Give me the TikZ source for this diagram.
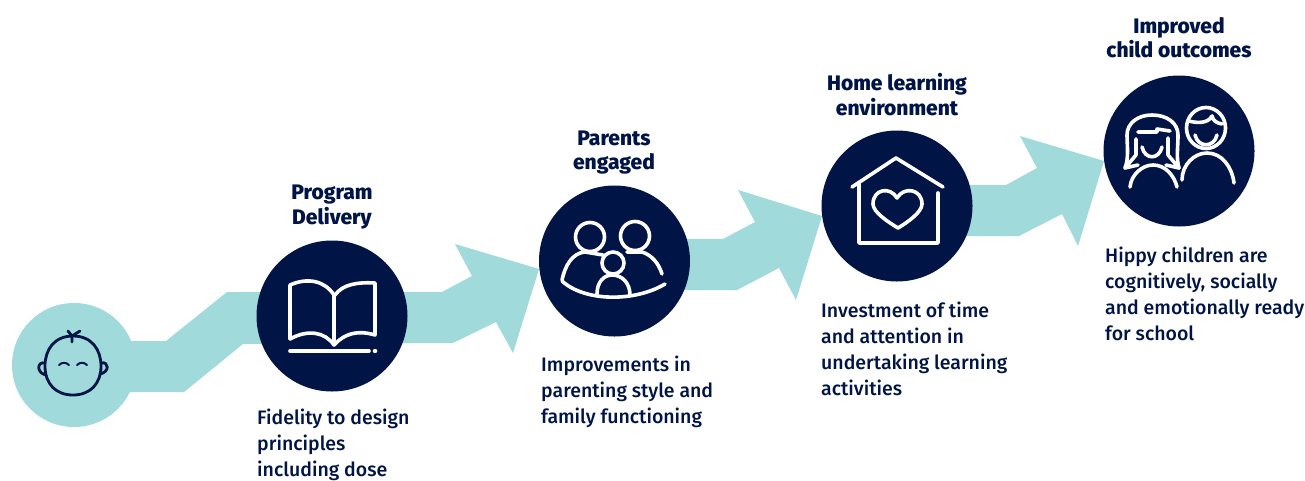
\documentclass[tikz,border=0pt]{standalone}
\usepackage{fontspec}
\setmainfont{Fira Sans Medium}[BoldFont={Fira Sans ExtraBold}]
\usetikzlibrary{positioning}
\definecolor{navy}{HTML}{001446}
\definecolor{aqua}{HTML}{A0DADB}
\tikzset{
    hub/.style={circle,fill=navy,minimum size=151pt,inner sep=0pt},
    title/.style={text=navy,font=\fontsize{21}{24.5}\selectfont\bfseries,align=center,inner sep=0pt,anchor=north},
    body/.style={text=navy,font=\fontsize{19.5}{26}\selectfont,align=left,inner sep=0pt,anchor=north west},
    icon/.style={draw=white,line width=3.6pt,line cap=round,line join=round},
    babyline/.style={draw=navy,line width=2.8pt,line cap=round,line join=round}
}
\begin{document}
\begin{tikzpicture}[x=1pt,y=-1pt]
    \useasboundingbox (0,0) rectangle (1305,480);

    % Arrows
    \fill[aqua] (130,341) -- (166,341) -- (227,292) -- (442,292) -- (472,276) -- (455,244) -- (539,269) -- (513,353) -- (496,322) -- (453,343) -- (243,344) -- (184,392) -- (129,392) -- cycle;
    \fill[aqua] (680,239) -- (723,239) -- (755,222) -- (738,190) -- (822,216) -- (796,300) -- (779,268) -- (737,290) -- (680,290) -- cycle;
    \fill[aqua] (960,185) -- (1006,185) -- (1037,168) -- (1020,136) -- (1104,161) -- (1078,246) -- (1062,214) -- (1019,236) -- (960,236) -- cycle;

    % Circles
    \node[circle,fill=aqua,minimum size=124pt,inner sep=0pt] (baby) at (74,365) {};
    \node[hub] (book) at (332,316) {};
    \node[hub] (parents) at (614.5,261) {};
    \node[hub] (home) at (897,206) {};
    \node[hub] (kids) at (1179,151) {};

    % Baby
    \draw[babyline] (73,336) .. controls (92,336) and (101,350) .. (101,366) .. controls (101,384) and (90,395) .. (73,395) .. controls (56,395) and (45,384) .. (45,366) .. controls (45,350) and (54,336) .. (73,336);
    \draw[babyline] (45,363) .. controls (37,361) and (36,373) .. (46,375);
    \draw[babyline] (101,363) .. controls (109,361) and (110,372) .. (100,374);
    \draw[babyline] (72,342) -- (72,336) -- (68,331);
    \draw[babyline] (72,336) -- (80,331);
    \draw[babyline,line width=2pt] (59,365) .. controls (62,362) and (66,362) .. (69,365);
    \draw[babyline,line width=2pt] (77,365) .. controls (80,362) and (84,362) .. (87,365);

    % Book
    \draw[icon] (290,339) -- (290,285) .. controls (308,277) and (325,281) .. (334,295) -- (334,345) .. controls (325,332) and (308,329) .. (290,339);
    \draw[icon] (335,295) .. controls (343,284) and (358,282) .. (375,283) -- (375,335) .. controls (358,330) and (345,333) .. (334,345);
    \draw[icon] (290,351) -- (369,351);
    \draw[icon] (374.5,351) -- (375.5,351);

    % Parents
    \draw[icon] (590,237) circle (14.5);
    \draw[icon] (635,236) circle (14.5);
    \draw[icon] (613,263) circle (11);
    \draw[icon] (562,280) .. controls (565,266) and (572,253) .. (585,252) -- (603,255);
    \draw[icon] (627,252) -- (642,252) .. controls (652,255) and (659,264) .. (662,274);
    \draw[icon] (597,294) .. controls (597,282) and (604,275) .. (612,275) .. controls (622,275) and (630,283) .. (630,295);
    \draw[icon] (562,281) .. controls (585,302) and (635,302) .. (665,284);

    % House
    \draw[icon] (852,187) -- (896,158) -- (943,187);
    \draw[icon] (859,184) -- (859,243) -- (938,243) -- (938,193);
    \draw[icon] (897,198) .. controls (890,186) and (873,189) .. (873,204) .. controls (873,212) and (888,222) .. (898,228) .. controls (908,222) and (922,212) .. (922,204) .. controls (922,189) and (904,186) .. (897,198) -- cycle;

    % Girl and boy
    \draw[icon] (1206,128) ellipse (19.5 and 20.5);
    \draw[icon] (1189,121) .. controls (1196,123) and (1208,124) .. (1212,116) .. controls (1213,121) and (1217,123) .. (1222,124);
    \draw[icon] (1195,135) .. controls (1198,148) and (1214,148) .. (1217,135);
    \draw[icon] (1182,180) .. controls (1182,165) and (1194,153) .. (1207,153) .. controls (1222,153) and (1232,167) .. (1234,183);
    \draw[icon] (1125,168) .. controls (1129,158) and (1127,145) .. (1127,135) .. controls (1127,123) and (1138,115) .. (1152,115) .. controls (1167,115) and (1178,123) .. (1178,135) .. controls (1178,148) and (1176,158) .. (1179,168);
    \draw[icon] (1138,132) -- (1157,132) -- (1157,129) -- (1170,131);
    \draw[icon] (1136,139) -- (1136,155) -- (1125,168) -- (1138,165);
    \draw[icon] (1168,138) -- (1168,155) -- (1179,168) -- (1166,165);
    \draw[icon] (1142,147) .. controls (1145,160) and (1159,160) .. (1162,147);
    \draw[icon] (1130,187) .. controls (1131,175) and (1142,165) .. (1153,165) .. controls (1165,165) and (1174,175) .. (1177,187);

    % Titles
    \node[title] (bookTitle) at (332,185) {Program\\Delivery};
    \node[title] (parentsTitle) at (614,130.5) {Parents\\engaged};
    \node[title] (homeTitle) at (897,73.5) {Home learning\\environment};
    \node[title] (kidsTitle) at (1179,17) {Improved\\child outcomes};

    % Descriptions
    \node[body] (bookText) at (257,409) {Fidelity to design\\principles\\including dose};
    \node[body] (parentsText) at (541,356) {Improvements in\\parenting style and\\family functioning};
    \node[body] (homeText) at (821,302) {Investment of time\\and attention in\\undertaking learning\\activities};
    \node[body] (kidsText) at (1105,247) {Hippy children are\\cognitively, socially\\and emotionally ready\\for school};
\end{tikzpicture}
\end{document}
